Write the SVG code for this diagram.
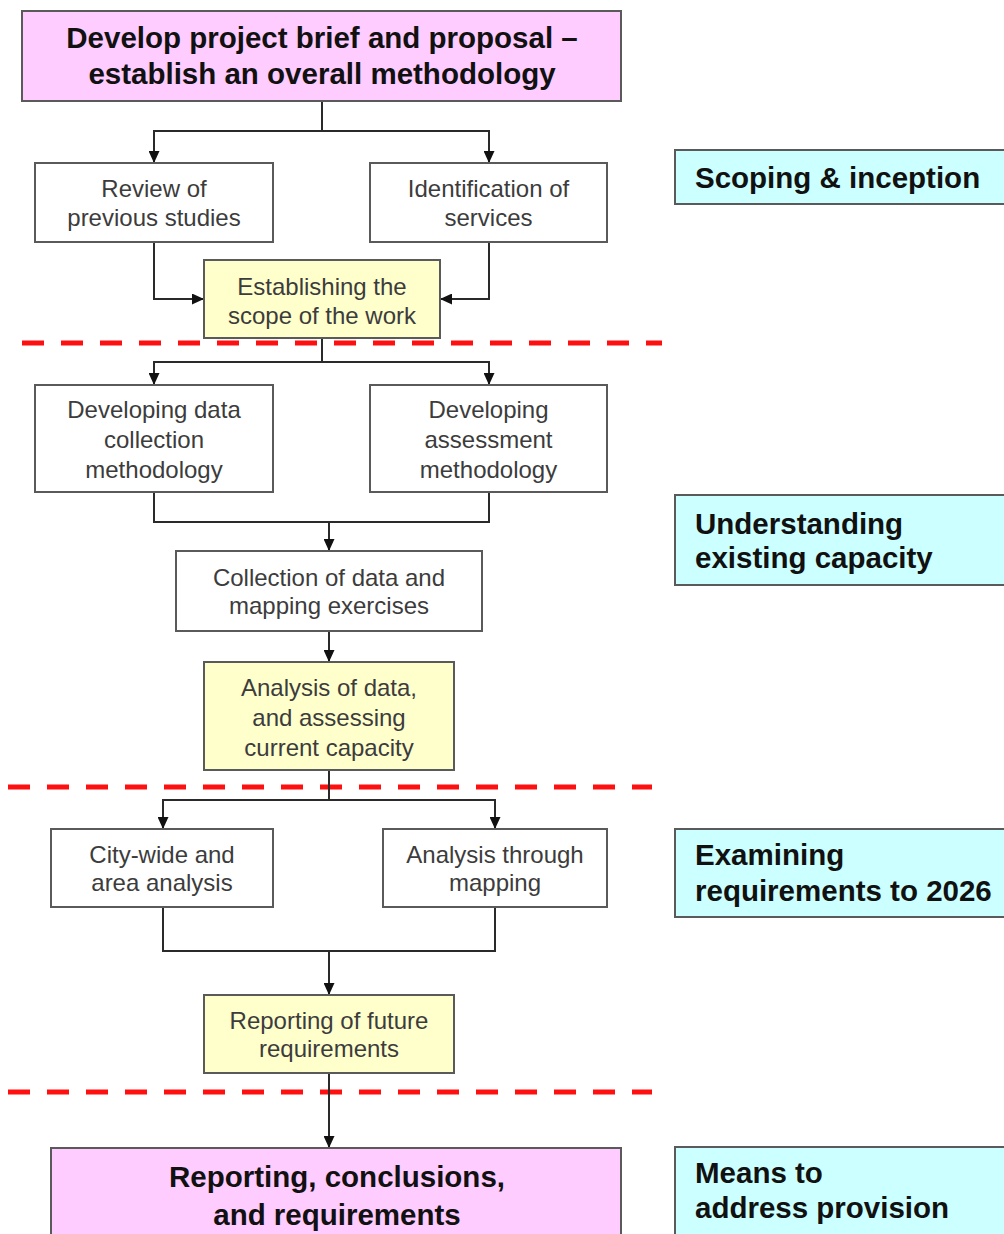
<svg xmlns="http://www.w3.org/2000/svg" width="1004" height="1234" viewBox="0 0 1004 1234">
<style>
.box{stroke:#5a5a5a;stroke-width:2}
.pink{fill:#FFCCFF}
.white{fill:#FFFFFF}
.yellow{fill:#FFFFCC}
.cyan{fill:#CCFFFF}
.t{font-family:"Liberation Sans",Arial,sans-serif;font-size:24px;fill:#3c3c3c;text-anchor:middle}
.b{font-family:"Liberation Sans",Arial,sans-serif;font-size:29.5px;font-weight:bold;fill:#111;text-anchor:middle}
.l{font-family:"Liberation Sans",Arial,sans-serif;font-size:29.5px;font-weight:bold;fill:#111}
.c{fill:none;stroke:#2a2a2a;stroke-width:2}
.dash{stroke:#FF1010;stroke-width:5;stroke-dasharray:22 17;fill:none}
</style>
<defs>
<marker id="arr" markerUnits="userSpaceOnUse" markerWidth="12" markerHeight="11" viewBox="0 0 12 11" refX="12" refY="5.5" orient="auto">
<path d="M0 0 L12 5.5 L0 11 z" fill="#111"/>
</marker>
</defs>
<rect width="1004" height="1234" fill="#FFFFFF"/>

<g id="dividers">
<line class="dash" x1="22" y1="343" x2="662" y2="343"/>
<line class="dash" x1="8" y1="787" x2="652" y2="787"/>
<line class="dash" x1="8" y1="1092" x2="652" y2="1092"/>
</g>

<g id="connectors">
<path class="c" d="M322 101 V131 H154 V163" marker-end="url(#arr)"/>
<path class="c" d="M322 131 H489 V163" marker-end="url(#arr)"/>
<path class="c" d="M154 242 V299 H204" marker-end="url(#arr)"/>
<path class="c" d="M489 242 V299 H440" marker-end="url(#arr)"/>
<path class="c" d="M322 338 V362 H154 V385" marker-end="url(#arr)"/>
<path class="c" d="M322 362 H489 V385" marker-end="url(#arr)"/>
<path class="c" d="M154 492 V522 H489 V492"/>
<path class="c" d="M329 522 V551" marker-end="url(#arr)"/>
<path class="c" d="M329 631 V662" marker-end="url(#arr)"/>
<path class="c" d="M329 770 V800 H163 V829" marker-end="url(#arr)"/>
<path class="c" d="M329 800 H495 V829" marker-end="url(#arr)"/>
<path class="c" d="M163 907 V951 H495 V907"/>
<path class="c" d="M329 951 V995" marker-end="url(#arr)"/>
<path class="c" d="M329 1073 V1148" marker-end="url(#arr)"/>
</g>

<g id="n-brief">
<rect class="box pink" x="22" y="11" width="599" height="90"/>
<text class="b" x="322" y="48">Develop project brief and proposal –</text>
<text class="b" x="322" y="84">establish an overall methodology</text>
</g>
<g id="n-review">
<rect class="box white" x="35" y="163" width="238" height="79"/>
<text class="t" x="154" y="197">Review of</text>
<text class="t" x="154" y="226">previous studies</text>
</g>
<g id="n-ident">
<rect class="box white" x="370" y="163" width="237" height="79"/>
<text class="t" x="488.5" y="197">Identification of</text>
<text class="t" x="488.5" y="226">services</text>
</g>
<g id="n-scope">
<rect class="box yellow" x="204" y="260" width="236" height="78"/>
<text class="t" x="322" y="295">Establishing the</text>
<text class="t" x="322" y="324">scope of the work</text>
</g>
<g id="n-datamethod">
<rect class="box white" x="35" y="385" width="238" height="107"/>
<text class="t" x="154" y="418">Developing data</text>
<text class="t" x="154" y="448">collection</text>
<text class="t" x="154" y="478">methodology</text>
</g>
<g id="n-assessmethod">
<rect class="box white" x="370" y="385" width="237" height="107"/>
<text class="t" x="488.5" y="418">Developing</text>
<text class="t" x="488.5" y="448">assessment</text>
<text class="t" x="488.5" y="478">methodology</text>
</g>
<g id="n-collection">
<rect class="box white" x="176" y="551" width="306" height="80"/>
<text class="t" x="329" y="586">Collection of data and</text>
<text class="t" x="329" y="614">mapping exercises</text>
</g>
<g id="n-analysis">
<rect class="box yellow" x="204" y="662" width="250" height="108"/>
<text class="t" x="329" y="696">Analysis of data,</text>
<text class="t" x="329" y="726">and assessing</text>
<text class="t" x="329" y="756">current capacity</text>
</g>
<g id="n-citywide">
<rect class="box white" x="51" y="829" width="222" height="78"/>
<text class="t" x="162" y="863">City-wide and</text>
<text class="t" x="162" y="891">area analysis</text>
</g>
<g id="n-mapping">
<rect class="box white" x="383" y="829" width="224" height="78"/>
<text class="t" x="495" y="863">Analysis through</text>
<text class="t" x="495" y="891">mapping</text>
</g>
<g id="n-future">
<rect class="box yellow" x="204" y="995" width="250" height="78"/>
<text class="t" x="329" y="1029">Reporting of future</text>
<text class="t" x="329" y="1057">requirements</text>
</g>
<g id="n-final">
<rect class="box pink" x="51" y="1148" width="570" height="100"/>
<text class="b" x="337" y="1187">Reporting, conclusions,</text>
<text class="b" x="337" y="1225">and requirements</text>
</g>

<g id="s-scoping">
<rect class="box cyan" x="675" y="150" width="340" height="54"/>
<text class="l" x="695" y="188">Scoping &amp; inception</text>
</g>
<g id="s-understanding">
<rect class="box cyan" x="675" y="495" width="340" height="90"/>
<text class="l" x="695" y="534">Understanding</text>
<text class="l" x="695" y="568">existing capacity</text>
</g>
<g id="s-examining">
<rect class="box cyan" x="675" y="829" width="340" height="88"/>
<text class="l" x="695" y="865">Examining</text>
<text class="l" x="695" y="901">requirements to 2026</text>
</g>
<g id="s-means">
<rect class="box cyan" x="675" y="1147" width="340" height="100"/>
<text class="l" x="695" y="1183">Means to</text>
<text class="l" x="695" y="1218">address provision</text>
</g>
</svg>
